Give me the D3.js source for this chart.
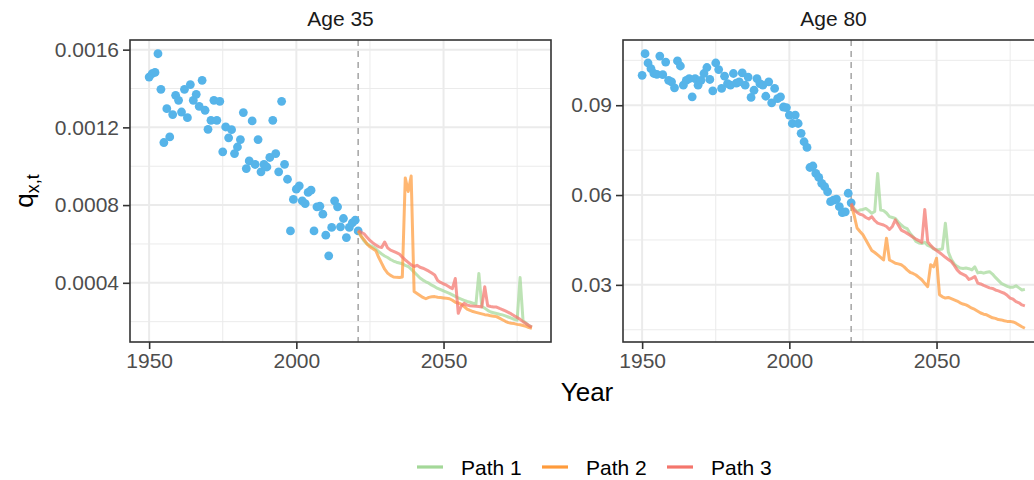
<!DOCTYPE html>
<html>
<head>
<meta charset="utf-8">
<script src="https://cdn.jsdelivr.net/npm/d3@7"></script>
<style>
  body { margin: 0; background: #ffffff; }
  text { font-family: "Liberation Sans", Arial, Helvetica, sans-serif; }
</style>
</head>
<body>
<svg id="chart" width="1034" height="480"></svg>
<script>
// ---- data -------------------------------------------------------------
const histYears = d3.range(1950, 2022);   // observed years
const projYears = d3.range(2021, 2081);   // simulated years
const forecastStart = 2021;

const age35Observed = [
  0.001459, 0.001476, 0.001483, 0.001579, 0.001396, 0.001122, 0.001296, 0.001151, 0.001266, 0.001365,
  0.001339, 0.001279, 0.001396, 0.001250, 0.001420, 0.001339, 0.001370, 0.001308, 0.001442, 0.001288,
  0.001190, 0.001236, 0.001339, 0.001236, 0.001334, 0.001074, 0.001202, 0.001146, 0.001188, 0.001065,
  0.001099, 0.001137, 0.001276, 0.000988, 0.001027, 0.001233, 0.001009, 0.001137, 0.000971, 0.001009,
  0.000996, 0.001045, 0.001236, 0.001065, 0.000971, 0.001334, 0.001010, 0.000933, 0.000667, 0.000829,
  0.000882, 0.000899, 0.000822, 0.000808, 0.000865, 0.000877, 0.000667, 0.000791, 0.000794, 0.000753,
  0.000645, 0.000539, 0.000685, 0.000822, 0.000791, 0.000688, 0.000731, 0.000633, 0.000685, 0.000708,
  0.000722, 0.000667
];

const age80Observed = [
  0.1000, 0.1072, 0.1041, 0.1022, 0.1006, 0.1003, 0.1064, 0.1002, 0.1044, 0.0983,
  0.0978, 0.0958, 0.1048, 0.1031, 0.0967, 0.0983, 0.0989, 0.0928, 0.0989, 0.0967,
  0.0983, 0.1006, 0.1026, 0.0986, 0.0948, 0.1041, 0.1019, 0.0956, 0.0997, 0.0972,
  0.0967, 0.1006, 0.0974, 0.0978, 0.1008, 0.0967, 0.0994, 0.0926, 0.0950, 0.0989,
  0.0972, 0.0967, 0.0930, 0.0978, 0.0908, 0.0956, 0.0922, 0.0928, 0.0894, 0.0892,
  0.0867, 0.0839, 0.0867, 0.0839, 0.0806, 0.0778, 0.0759, 0.0692, 0.0697, 0.0672,
  0.0659, 0.0639, 0.0628, 0.0611, 0.0578, 0.0583, 0.0586, 0.0561, 0.0541, 0.0544,
  0.0606, 0.0574
];

const age35Path1 = [
  0.000669, 0.000640, 0.000615, 0.000600, 0.000592, 0.000585, 0.000575, 0.000560, 0.000548, 0.000538,
  0.000530, 0.000520, 0.000512, 0.000506, 0.000502, 0.000498, 0.000490, 0.000484, 0.000470, 0.000455,
  0.000440, 0.000425, 0.000414, 0.000405, 0.000398, 0.000388, 0.000380, 0.000371, 0.000365, 0.000358,
  0.000352, 0.000346, 0.000338, 0.000330, 0.000322, 0.000316, 0.000310, 0.000304, 0.000300, 0.000295,
  0.000290, 0.000448, 0.000277, 0.000270, 0.000258, 0.000250, 0.000246, 0.000242, 0.000238, 0.000235,
  0.000230, 0.000224, 0.000218, 0.000212, 0.000208, 0.000427, 0.000205, 0.000192, 0.000180, 0.000172
];
const age35Path2 = [
  0.000665, 0.000640, 0.000622, 0.000600, 0.000585, 0.000575, 0.000565, 0.000530, 0.000500, 0.000470,
  0.000450, 0.000438, 0.000430, 0.000428, 0.000427, 0.000430, 0.000940, 0.000870, 0.000950, 0.000355,
  0.000345, 0.000335, 0.000325, 0.000318, 0.000325, 0.000328, 0.000329, 0.000326, 0.000324, 0.000322,
  0.000320, 0.000318, 0.000310, 0.000300, 0.000296, 0.000290, 0.000278, 0.000265, 0.000258, 0.000252,
  0.000248, 0.000244, 0.000240, 0.000236, 0.000234, 0.000230, 0.000228, 0.000226, 0.000218, 0.000210,
  0.000202, 0.000195, 0.000192, 0.000190, 0.000186, 0.000184, 0.000180, 0.000176, 0.000170, 0.000166
];
const age35Path3 = [
  0.000669, 0.000660, 0.000652, 0.000635, 0.000618, 0.000605, 0.000595, 0.000585, 0.000582, 0.000610,
  0.000580, 0.000568, 0.000562, 0.000555, 0.000548, 0.000532, 0.000518, 0.000505, 0.000492, 0.000484,
  0.000490, 0.000480, 0.000475, 0.000468, 0.000460, 0.000450, 0.000440, 0.000412, 0.000402, 0.000395,
  0.000388, 0.000378, 0.000370, 0.000422, 0.000243, 0.000280, 0.000294, 0.000285, 0.000282, 0.000280,
  0.000279, 0.000278, 0.000276, 0.000380, 0.000282, 0.000278, 0.000276, 0.000275, 0.000268, 0.000262,
  0.000255, 0.000248, 0.000240, 0.000230, 0.000222, 0.000212, 0.000200, 0.000190, 0.000180, 0.000172
];

const age80Path1 = [
  0.0567, 0.0555, 0.0545, 0.0550, 0.0552, 0.0555, 0.0548, 0.0539, 0.0545, 0.0672,
  0.0550, 0.0548, 0.0540, 0.0528, 0.0525, 0.0522, 0.0510, 0.0500, 0.0492, 0.0488,
  0.0472, 0.0461, 0.0445, 0.0440, 0.0438, 0.0442, 0.0432, 0.0428, 0.0420, 0.0417,
  0.0418, 0.0420, 0.0506, 0.0410, 0.0385, 0.0370, 0.0362, 0.0356, 0.0355, 0.0356,
  0.0354, 0.0350, 0.0360, 0.0340, 0.0342, 0.0339, 0.0342, 0.0344, 0.0336, 0.0325,
  0.0315, 0.0305, 0.0300, 0.0295, 0.0292, 0.0292, 0.0297, 0.0290, 0.0283, 0.0285
];
const age80Path2 = [
  0.0567, 0.0533, 0.0490, 0.0478, 0.0467, 0.0450, 0.0432, 0.0415, 0.0408, 0.0400,
  0.0392, 0.0383, 0.0456, 0.0383, 0.0378, 0.0372, 0.0370, 0.0367, 0.0360, 0.0350,
  0.0342, 0.0338, 0.0333, 0.0325, 0.0317, 0.0305, 0.0294, 0.0367, 0.0360, 0.0389,
  0.0267, 0.0260, 0.0256, 0.0258, 0.0254, 0.0250, 0.0246, 0.0240, 0.0236, 0.0233,
  0.0228, 0.0222, 0.0218, 0.0212, 0.0206, 0.0202, 0.0200, 0.0195, 0.0190, 0.0188,
  0.0184, 0.0183, 0.0180, 0.0178, 0.0178, 0.0176, 0.0172, 0.0166, 0.0160, 0.0155
];
const age80Path3 = [
  0.0572, 0.0550, 0.0542, 0.0536, 0.0533, 0.0525, 0.0520, 0.0528, 0.0515, 0.0506,
  0.0503, 0.0500, 0.0495, 0.0485, 0.0495, 0.0517, 0.0500, 0.0483, 0.0478, 0.0472,
  0.0466, 0.0459, 0.0453, 0.0448, 0.0442, 0.0552, 0.0444, 0.0432, 0.0422, 0.0415,
  0.0408, 0.0400, 0.0392, 0.0385, 0.0378, 0.0365, 0.0350, 0.0340, 0.0335, 0.0330,
  0.0318, 0.0322, 0.0328, 0.0306, 0.0303, 0.0298, 0.0294, 0.0290, 0.0288, 0.0283,
  0.0280, 0.0276, 0.0272, 0.0265, 0.0256, 0.0252, 0.0244, 0.0240, 0.0233, 0.0230
];

const pathNames = ["Path 1", "Path 2", "Path 3"];
const pathColors = ["#a3d898", "#ff9b3b", "#f4756c"];
const xTicks = [1950, 2000, 2050];
const xMinorTicks = [1975, 2025, 2075];
const age35Ticks = [0.0004, 0.0008, 0.0012, 0.0016];
const age80Ticks = [0.03, 0.06, 0.09];

// ---- layout -----------------------------------------------------------
const svg = d3.select("#chart");
const panelTop = 40, panelBottom = 342, panelWidth = 421;
const pointColor = "#56B4E9";

const panels = [
  { title: "Age 35", left: 130, observed: age35Observed,
    paths: [age35Path1, age35Path2, age35Path3], ticks: age35Ticks, fmt: d3.format(".4f") },
  { title: "Age 80", left: 623, observed: age80Observed,
    paths: [age80Path1, age80Path2, age80Path3], ticks: age80Ticks, fmt: d3.format(".2f") }
];

// ggplot-style 5% padding around the data range
function padded(lo, hi) {
  const d = (hi - lo) * 0.05;
  return [lo - d, hi + d];
}

const allYears = histYears.concat(projYears);
const xDomain = padded(d3.min(allYears), d3.max(allYears));

panels.forEach(p => {
  const x = d3.scaleLinear().domain(xDomain).range([p.left, p.left + panelWidth]);
  const values = p.observed.concat(...p.paths);
  const y = d3.scaleLinear().domain(padded(d3.min(values), d3.max(values))).range([panelBottom, panelTop]);

  const g = svg.append("g");

  // minor grid
  const step = p.ticks[1] - p.ticks[0];
  const yMinor = [p.ticks[0] - step / 2]
    .concat(p.ticks.map(t => t + step / 2))
    .filter(v => v > y.domain()[0] && v < y.domain()[1]);
  g.selectAll(".ymin").data(yMinor).join("line")
    .attr("x1", p.left).attr("x2", p.left + panelWidth)
    .attr("y1", d => y(d)).attr("y2", d => y(d))
    .attr("stroke", "#ebebeb").attr("stroke-width", 1);
  g.selectAll(".xmin").data(xMinorTicks).join("line")
    .attr("x1", d => x(d)).attr("x2", d => x(d))
    .attr("y1", panelTop).attr("y2", panelBottom)
    .attr("stroke", "#ebebeb").attr("stroke-width", 1);

  // major grid
  g.selectAll(".ymaj").data(p.ticks).join("line")
    .attr("x1", p.left).attr("x2", p.left + panelWidth)
    .attr("y1", d => y(d)).attr("y2", d => y(d))
    .attr("stroke", "#ebebeb").attr("stroke-width", 2);
  g.selectAll(".xmaj").data(xTicks).join("line")
    .attr("x1", d => x(d)).attr("x2", d => x(d))
    .attr("y1", panelTop).attr("y2", panelBottom)
    .attr("stroke", "#ebebeb").attr("stroke-width", 2);

  // start of the simulation horizon
  g.append("line")
    .attr("x1", x(forecastStart)).attr("x2", x(forecastStart))
    .attr("y1", panelTop).attr("y2", panelBottom)
    .attr("stroke", "#a9a9a9").attr("stroke-width", 1.6)
    .attr("stroke-dasharray", "6,5");

  // observed rates
  g.selectAll(".obs").data(histYears).join("circle")
    .attr("cx", (d) => x(d))
    .attr("cy", (d, i) => y(p.observed[i]))
    .attr("r", 4.4)
    .attr("fill", pointColor);

  // simulated paths
  const line = d3.line().x((d, i) => x(projYears[i])).y(d => y(d));
  p.paths.forEach((vals, k) => {
    g.append("path")
      .attr("d", line(vals))
      .attr("fill", "none")
      .attr("stroke", pathColors[k])
      .attr("stroke-opacity", 0.72)
      .attr("stroke-width", 3)
      .attr("stroke-linejoin", "round");
  });

  // panel border
  g.append("rect")
    .attr("x", p.left).attr("y", panelTop)
    .attr("width", panelWidth).attr("height", panelBottom - panelTop)
    .attr("fill", "none").attr("stroke", "#333333").attr("stroke-width", 1.6);

  // axes
  const yAxis = d3.axisLeft(y).tickValues(p.ticks).tickFormat(p.fmt).tickSize(7).tickPadding(4);
  const ya = svg.append("g").attr("transform", `translate(${p.left},0)`).call(yAxis);
  const xAxis = d3.axisBottom(x).tickValues(xTicks).tickFormat(d3.format("d")).tickSize(7).tickPadding(4);
  const xa = svg.append("g").attr("transform", `translate(0,${panelBottom})`).call(xAxis);
  [ya, xa].forEach(a => {
    a.select(".domain").remove();
    a.selectAll(".tick line").attr("stroke", "#333333").attr("stroke-width", 1.6);
    a.selectAll(".tick text").attr("fill", "#4d4d4d").style("font-size", "21px")
      .style("font-family", "'Liberation Sans', Arial, sans-serif");
  });

  // strip title
  svg.append("text")
    .attr("x", p.left + panelWidth / 2).attr("y", 26)
    .attr("text-anchor", "middle")
    .attr("fill", "#1a1a1a").style("font-size", "21px")
    .text(p.title);
});

// axis titles
svg.append("text")
  .attr("x", (130 + 623 + panelWidth) / 2).attr("y", 401)
  .attr("text-anchor", "middle").attr("fill", "#000")
  .style("font-size", "26px").text("Year");

const ylab = svg.append("text")
  .attr("transform", "translate(33,191) rotate(-90)")
  .attr("text-anchor", "middle").attr("fill", "#000")
  .style("font-size", "26px");
ylab.append("tspan").text("q");
ylab.append("tspan").attr("dy", 6).style("font-size", "18px").text("x,t");

// legend
const legendX = [417, 542, 667];
const legend = svg.append("g");
pathNames.forEach((name, k) => {
  legend.append("line")
    .attr("x1", legendX[k]).attr("x2", legendX[k] + 26)
    .attr("y1", 467).attr("y2", 467)
    .attr("stroke", pathColors[k]).attr("stroke-width", 3.2);
  legend.append("text")
    .attr("x", legendX[k] + 44).attr("y", 475)
    .attr("fill", "#000").style("font-size", "21px")
    .text(name);
});
</script>
</body>
</html>
